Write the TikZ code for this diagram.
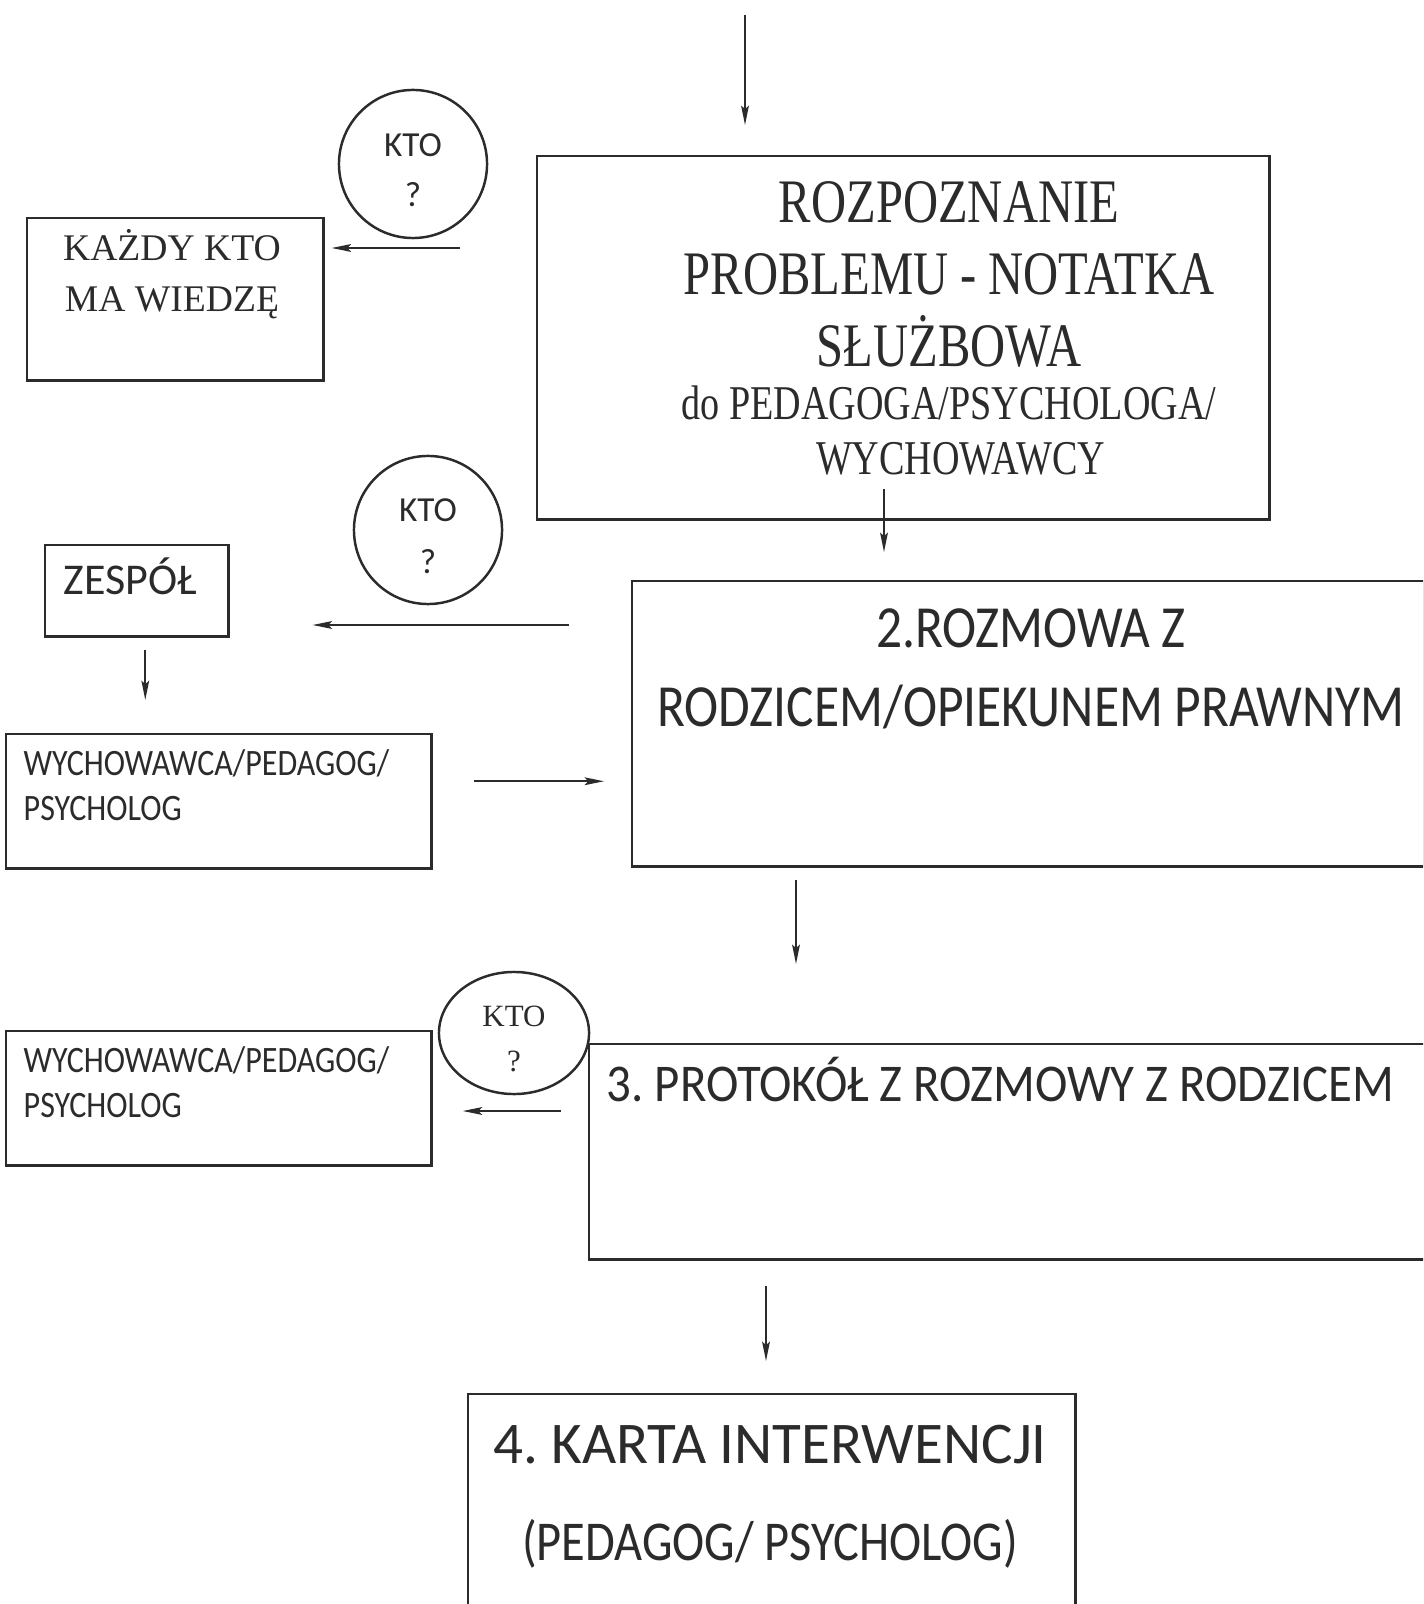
\documentclass[tikz,border=0pt]{standalone}
\usepackage{fontspec}
\setmainfont{Liberation Serif}
\newfontfamily\sans{Carlito}
\newfontfamily\condsans[FakeStretch=0.86]{Carlito}
\newfontfamily\semisans[FakeStretch=0.92]{Carlito}
\newfontfamily\condserif[FakeStretch=0.785]{Liberation Serif}
\usetikzlibrary{arrows.meta,shapes,calc}
\definecolor{ink}{HTML}{2B2B2B}

\tikzset{
  box/.style={draw=ink,line width=0.7pt,rectangle,anchor=north west,inner sep=0pt},
  kto/.style={draw=ink,line width=0.7pt,fill=white,circle,minimum size=1.48cm,inner sep=0pt,align=center,text=ink},
  txt/.style={inner sep=0pt,anchor=base,text=ink},
  arr/.style={draw=ink,line width=0.55pt,-{Stealth[length=5.5pt,width=2.2pt,inset=1pt]}}
}

\begin{document}
\frenchspacing
\begin{tikzpicture}[x=0.01cm,y=-0.01cm]
    \useasboundingbox (0,0) rectangle (1423,1604);
    \clip (0,0) rectangle (1423,1604);

    % 1. rozpoznanie
    \node [box,minimum width=7.32cm,minimum height=3.63cm] (rozp) at (536,155) {};
    \node [txt,text width=7cm,align=flush center,font=\condserif\fontsize{17.6}{20.4}\selectfont] (rozp txt) at (949,223) {
      ROZPOZNANIE\\PROBLEMU - NOTATKA\\SŁUŻBOWA
    };
    \node [txt,text width=7cm,align=flush center,font=\condserif\fontsize{13.8}{15.4}\selectfont] (rozp dop) at (949,420) {
      do PEDAGOGA/PSYCHOLOGA/\\\hspace*{0.23cm}WYCHOWAWCY
    };

    \node [kto,font=\sans\fontsize{10}{14}\selectfont] (kto1) at (413,164) {\rule{0pt}{10pt}KTO\\?};
    \node [box,minimum width=2.96cm,minimum height=1.62cm] (kazdy) at (26,217) {};
    \node [txt,text width=2.8cm,align=flush center,font=\rmfamily\fontsize{10.7}{14.5}\selectfont] (kazdy txt) at (172,261) {
      KAŻDY KTO\\MA WIEDZĘ
    };

    % 2. rozmowa
    \node [box,minimum width=7.92cm,minimum height=2.85cm] (rozmowa) at (631,580) {};
    \node [txt,text width=7.9cm,align=flush center,font=\condsans\fontsize{17}{22.2}\selectfont] (rozmowa txt) at (1031,648) {
      2.ROZMOWA Z\\RODZICEM/OPIEKUNEM PRAWNYM
    };

    \node [kto,font=\sans\fontsize{10}{14.8}\selectfont] (kto2) at (428,530) {\rule{0pt}{10pt}KTO\\?};
    \node [box,minimum width=1.83cm,minimum height=0.91cm] (zespol) at (44,544) {};
    \node [txt,anchor=base west,font=\sans\fontsize{12.5}{15}\selectfont] (zespol txt) at (63,595) {ZESPÓŁ};

    \node [box,minimum width=4.25cm,minimum height=1.34cm] (wych1) at (5,733) {};
    \node [txt,anchor=base west,text width=4cm,align=flush left,font=\condsans\fontsize{10.6}{12.8}\selectfont] (wych1 txt) at (23,775) {
      WYCHOWAWCA/PEDAGOG/\\PSYCHOLOG
    };

    % 3. protokol
    \node [box,minimum width=8.35cm,minimum height=2.15cm] (protokol) at (588,1043) {};
    \node [txt,anchor=base west,font=\semisans\fontsize{15.1}{18}\selectfont] (protokol txt) at (606,1101) {3. PROTOKÓŁ Z ROZMOWY Z RODZICEM};

    \node [kto,ellipse,minimum width=1.50cm,minimum height=1.22cm,font=\rmfamily\fontsize{8.8}{12.8}\selectfont] (kto3) at (514,1033) {\rule{0pt}{9pt}KTO\\?};
    \node [box,minimum width=4.25cm,minimum height=1.34cm] (wych2) at (5,1030) {};
    \node [txt,anchor=base west,text width=4cm,align=flush left,font=\condsans\fontsize{10.6}{12.8}\selectfont] (wych2 txt) at (23,1072) {
      WYCHOWAWCA/PEDAGOG/\\PSYCHOLOG
    };

    % 4. karta
    \node [box,minimum width=6.07cm,minimum height=2.32cm] (karta) at (467,1393) {};
    \node [txt,text width=6cm,align=flush center,font=\sans\fontsize{16.8}{27.6}\selectfont] (karta txt) at (770,1463) {
      4. KARTA INTERWENCJI\\{\condsans\fontsize{16}{27.6}\selectfont (PEDAGOG/ PSYCHOLOG)}
    };

    % strzalki
    \coordinate (top) at (745,15);
    \coordinate (k1) at (460,248);
    \coordinate (r1) at (884,489);
    \coordinate (k2) at (569,625);
    \coordinate (r2) at (796,880);
    \coordinate (k3) at (561,1111);
    \coordinate (p1) at (766,1286);

    \draw [arr,shorten >=0.3cm] (top) -- (top |- rozp.north);
    \draw [arr,shorten >=0.07cm] (k1) -- (k1 -| kazdy.east);
    \draw [arr,shorten >=0.28cm] (r1) -- (r1 |- rozmowa.north);
    \draw [arr,shorten >=0.83cm] (k2) -- (k2 -| zespol.east);
    \draw [arr,shorten <=0.12cm,shorten >=0.33cm] ([xshift=0.085cm]zespol.south) -- ([xshift=0.085cm]zespol.south |- wych1.north);
    \draw [arr,shorten <=0.41cm,shorten >=0.27cm] ([yshift=0.2cm]wych1.east) -- ([yshift=0.2cm]wych1.east -| rozmowa.west);
    \draw [arr,shorten >=0.79cm] (r2) -- (r2 |- protokol.north);
    \draw [arr,shorten >=0.3cm] (k3) -- (k3 -| wych2.east);
    \draw [arr,shorten >=0.32cm] (p1) -- (p1 |- karta.north);

  \end{tikzpicture}
\end{document}
